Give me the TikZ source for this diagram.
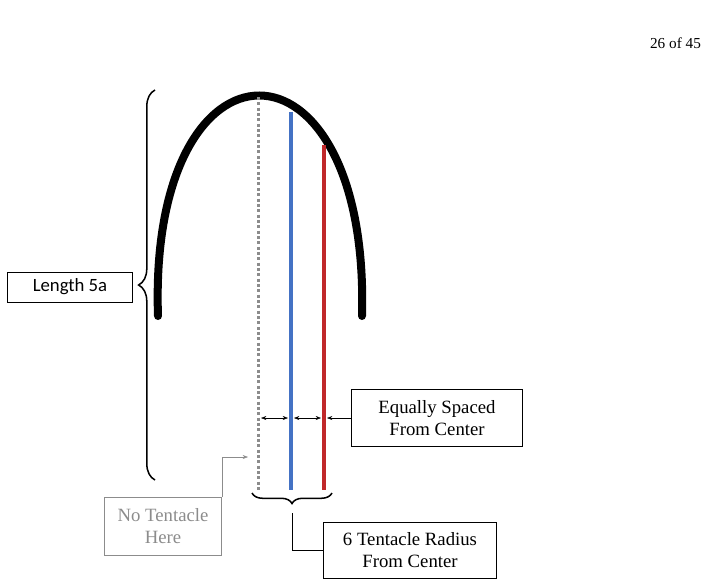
\documentclass[tikz,border=0pt]{standalone}
\usepackage{fontspec}
\setmainfont{Liberation Serif}
\newfontfamily\calibri{Carlito}
\usetikzlibrary{arrows.meta, decorations.pathreplacing}
\definecolor{tblue}{HTML}{4472C4}
\definecolor{tred}{HTML}{C0282A}
\definecolor{tgray}{HTML}{8C8C8C}

\begin{document}
\begin{tikzpicture}[x=0.03cm, y=-0.03cm,
    label box/.style={rectangle, draw=black, thick, align=center, font=\fontsize{16}{19}\selectfont, inner sep=0pt},
    gap/.style={{Stealth[length=1.6mm]}-{Stealth[length=1.6mm]}, thin},
    pointer/.style={-{Stealth[length=1.6mm]}, thin},
    bigbrace/.style={decorate, decoration={brace, amplitude=14pt}, line width=1.3pt}
]
\useasboundingbox (0,0) rectangle (711,587);

% Page number
\node[anchor=east, font=\fontsize{13}{15}\selectfont] (page) at (705,43) {26 of 45};

% Arch
\draw[line width=2.4mm, line cap=round] (158,316) .. controls (148,22) and (370,22) .. (362,316);

% Tentacle lines
\coordinate (c0) at (258,97);
\coordinate (c1) at (258,490);
\coordinate (b0) at (291,112);
\coordinate (b1) at (291,490);
\coordinate (r0) at (324,145);
\coordinate (r1) at (324,490);
\draw[tgray, dotted, line width=0.9mm] (c0) -- (c1);
\draw[tblue, line width=1.1mm] (b0) -- (b1);
\draw[tred, line width=1.1mm] (r0) -- (r1);

% Length brace
\coordinate (lt) at (155,90);
\coordinate (lb) at (155,480);
\draw[bigbrace] (lb) -- (lt);
\node[label box, font=\calibri\fontsize{16}{19}\selectfont, minimum width=3.75cm, minimum height=0.9cm] (len) at (70,287) {Length 5a};

% Spacing arrows
\coordinate (s0) at (261,418);
\coordinate (s1) at (288,418);
\coordinate (s2) at (294,418);
\coordinate (s3) at (321,418);
\draw[gap] (s0) -- (s1);
\draw[gap] (s2) -- (s3);
\node[label box, minimum width=5.13cm, minimum height=1.71cm] (eq) at (437,418) {Equally Spaced\\From Center};
\coordinate (s4) at (327,418);
\draw[pointer] (eq.west) -- (s4);

% No tentacle
\node[label box, draw=tgray, text=tgray, minimum width=3.5cm, minimum height=1.74cm] (none) at (163,526) {No Tentacle\\Here};
\coordinate (n0) at (248,457);
\draw[pointer, tgray] (none.north east) |- (n0);

% Radius brace
\coordinate (rl) at (252,493);
\coordinate (rr) at (332,493);
\coordinate (rt) at (292,513);
\draw[decorate, decoration={brace, amplitude=9pt, mirror}, line width=1.3pt] (rl) -- (rr);
\node[label box, minimum width=5.19cm, minimum height=1.68cm] (rad) at (410,550) {6 Tentacle Radius\\From Center};
\draw[thick] (rt) |- (rad.west);
\end{tikzpicture}
\end{document}
